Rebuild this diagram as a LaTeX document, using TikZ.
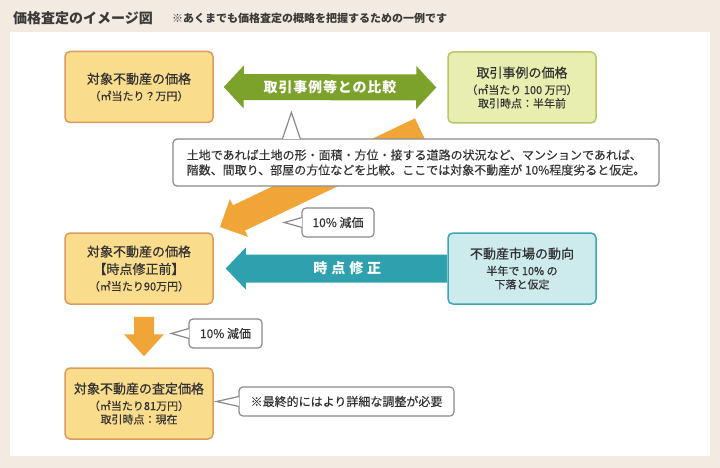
\documentclass[tikz,border=0pt]{standalone}
\usepackage{fontspec}
\setmainfont{Noto Sans CJK JP}
\newfontfamily\boxFont[FakeBold=0.45]{Noto Sans CJK JP}
\newfontfamily\noteFont[FakeBold=0.2]{Noto Sans CJK JP}
\newfontfamily\greenLabelFont[LetterSpace=6]{Noto Sans CJK JP}
\newfontfamily\tealLabelFont[LetterSpace=28]{Noto Sans CJK JP}
\usetikzlibrary{calc}

\definecolor{bgBeige}{HTML}{F2EBE1}
\definecolor{titleGray}{HTML}{3A3A3A}
\definecolor{textGray}{HTML}{333333}
\definecolor{orangeFill}{HTML}{F9DC8C}
\definecolor{orangeLine}{HTML}{DE9A5C}
\definecolor{greenFill}{HTML}{E7EEB0}
\definecolor{greenLine}{HTML}{B8C76C}
\definecolor{greenArrow}{HTML}{7DA22B}
\definecolor{tealFill}{HTML}{CDEAEC}
\definecolor{tealLine}{HTML}{3AA7B2}
\definecolor{tealArrow}{HTML}{2EA0AE}
\definecolor{orangeArrow}{HTML}{F0A536}
\definecolor{noteLine}{HTML}{8A8A8A}

\newcommand{\bigLine}{\fontsize{13}{13.5}\selectfont}
%% block arrow: colour, start, tip, shaft half width, head half width, head length
\newcommand{\blockArrow}[6]{%
  \coordinate (headBase) at ($(#3)!#6pt!(#2)$);
  \fill[#1] ($(#2)!#4pt!90:(#3)$) -- ($(headBase)!#4pt!-90:(#2)$)
    -- ($(headBase)!#5pt!-90:(#2)$) -- (#3) -- ($(headBase)!#5pt!90:(#2)$)
    -- ($(headBase)!#4pt!90:(#2)$) -- ($(#2)!#4pt!-90:(#3)$) -- cycle;
}

\begin{document}
\begin{tikzpicture}
[x=1pt,y=-1pt,
  boxDecorate/.style={rectangle,rounded corners=5pt,line width=1.5pt,
    minimum width=148pt,minimum height=71pt,inner sep=0pt,align=center,
    text=textGray,font=\boxFont\fontsize{11}{13.5}\selectfont},
  orangeBox/.style={boxDecorate,fill=orangeFill,draw=orangeLine},
  greenBox/.style={boxDecorate,fill=greenFill,draw=greenLine},
  tealBox/.style={boxDecorate,fill=tealFill,draw=tealLine},
  noteDecorate/.style={rectangle,rounded corners=4pt,draw=noteLine,line width=1.2pt,
    fill=white,inner sep=0pt,align=left,text=textGray,font=\noteFont\fontsize{12}{15}\selectfont},
  pointerDecorate/.style={draw=noteLine,line width=1.2pt,fill=white,line join=miter},
  arrowLabel/.style={text=white,inner sep=0pt},
  scale=1]
%% page and panel
\useasboundingbox (0,0) rectangle (720,468);
\fill[bgBeige] (0,0) rectangle (720,468);
\fill[white] (10,32) rectangle (710,456);
\node (title) at (13,18) [anchor=west,inner sep=0pt,text=titleGray,
  font=\fontsize{14}{16}\selectfont\bfseries] {価格査定のイメージ図};
\node (subtitle) at (172,18.5) [anchor=west,inner sep=0pt,text=titleGray,
  font=\fontsize{11}{12}\selectfont\bfseries] {※あくまでも価格査定の概略を把握するための一例です};
%% boxes
\foreach \nodename/\x/\y/\look/\txt in {
  cost/139/87/orangeBox/{{\bigLine 対象不動産の価格}\\[3pt]（㎡当たり？万円）},
  case/522/87.5/greenBox/{{\bigLine 取引事例の価格}\\[3pt]（㎡当たり 100 万円）\\取引時点：半年前},
  before/139/268.5/orangeBox/{{\bigLine 対象不動産の価格}\\[4pt]{\bigLine 【時点修正前】}\\[3pt]（㎡当たり90万円）},
  market/522/268.5/tealBox/{{\bigLine 不動産市場の動向}\\[3pt]半年で 10\% の\\下落と仮定},
  final/139/403.5/orangeBox/{{\bigLine 対象不動産の査定価格}\\[3pt]（㎡当たり81万円）\\取引時点：現在}}
{
  \node (\nodename) at (\x,\y) [\look] {\txt};
}
%% block arrows
\coordinate (greenLeft) at ($(cost.east)+(10,0)$);
\coordinate (greenRight) at ($(case.west)+(-11,0)$);
\coordinate (greenMid) at ($(greenLeft)!0.5!(greenRight)$);
\coordinate (tealStart) at ($(market.west)+(-0.5,0)$);
\coordinate (tealTip) at ($(before.east)+(12,0)$);
\coordinate (slopeStart) at (421,131);
\coordinate (slopeTip) at (220,227);
\coordinate (downStart) at ($(before.south)+(5,12)$);
\coordinate (downTip) at ($(final.north)+(5,-11)$);
\blockArrow{greenArrow}{greenMid}{greenLeft}{13}{21.5}{20}
\blockArrow{greenArrow}{greenMid}{greenRight}{13}{21.5}{20}
\blockArrow{tealArrow}{tealStart}{tealTip}{14}{21}{20}
\blockArrow{orangeArrow}{slopeStart}{slopeTip}{14}{21}{21}
\blockArrow{orangeArrow}{downStart}{downTip}{10}{20}{22}
\node (greenText) at (greenMid) [arrowLabel,font=\greenLabelFont\bfseries\fontsize{14}{15}\selectfont] {取引事例等との比較};
\node (tealText) at ($(tealStart)!0.45!(tealTip)$) [arrowLabel,font=\tealLabelFont\bfseries\fontsize{14}{15}\selectfont] {時点修正};
%% notes
\foreach \nodename/\x/\y/\w/\h/\txt in {
  noteA/416/162.5/486/47/{土地であれば土地の形・面積・方位・接する道路の状況など、マンションであれば、\\階数、間取り、部屋の方位などを比較。ここでは対象不動産が 10\%程度劣ると仮定。},
  noteB/338/222.5/72/29/{10\% 減価},
  noteC/225.5/333.5/73/29/{10\% 減価},
  noteD/346.5/401.5/215/29/{※最終的にはより詳細な調整が必要}}
{
  \node (\nodename) at (\x,\y) [noteDecorate,minimum width=\w,minimum height=\h] {\txt};
}
\path[pointerDecorate] ($(noteA.north west)+(110,0.6)$) -- ($(noteA.north west)+(119,-26)$)
  -- ($(noteA.north west)+(128,0.6)$);
\foreach \notename/\reach in {noteB/17, noteC/17, noteD/22}
{
  \path[pointerDecorate] ($(\notename.west)+(0.6,-5)$) -- ($(\notename.west)+(-\reach,0)$)
    -- ($(\notename.west)+(0.6,5)$);
};
\end{tikzpicture}
\end{document}
